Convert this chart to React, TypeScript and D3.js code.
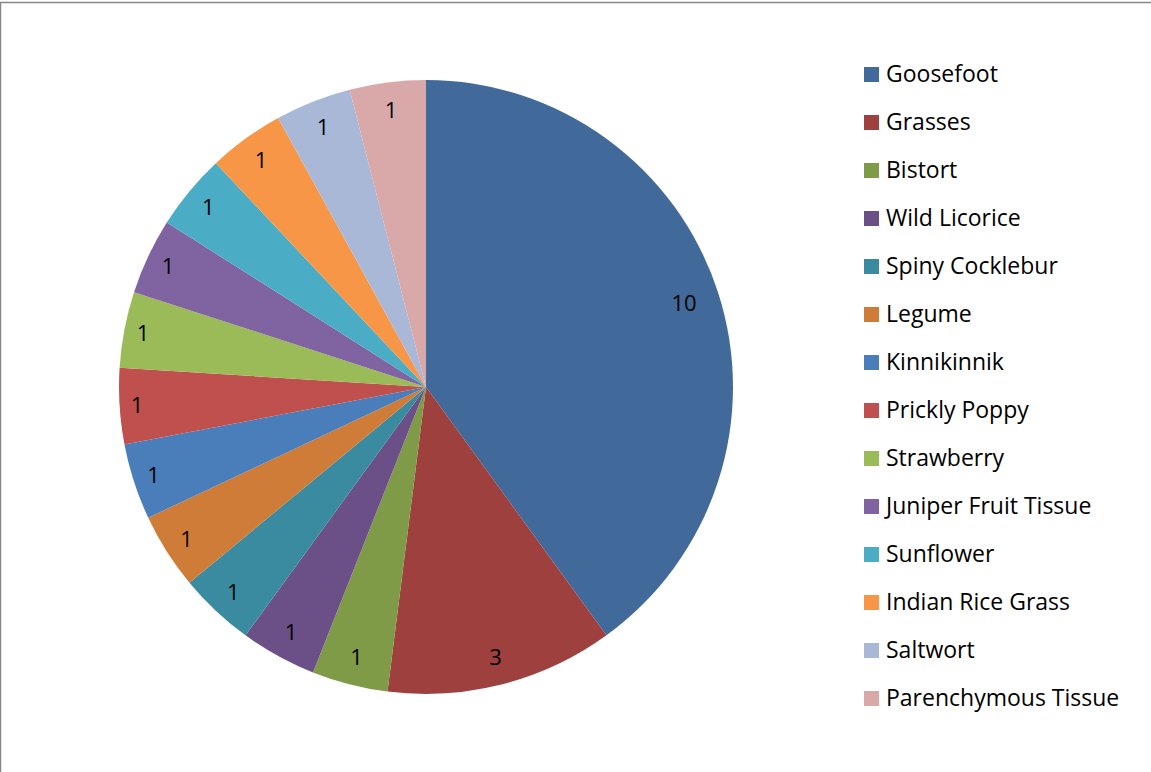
import React from "react";
import * as d3 from "d3";

const categories = [
  "Goosefoot",
  "Grasses",
  "Bistort",
  "Wild Licorice",
  "Spiny Cocklebur",
  "Legume",
  "Kinnikinnik",
  "Prickly Poppy",
  "Strawberry",
  "Juniper Fruit Tissue",
  "Sunflower",
  "Indian Rice Grass",
  "Saltwort",
  "Parenchymous Tissue",
];
const values = [10, 3, 1, 1, 1, 1, 1, 1, 1, 1, 1, 1, 1, 1];
const colors = [
  "#416A9B",
  "#9E413E",
  "#7F9B48",
  "#6A5087",
  "#3B8BA0",
  "#CF7C38",
  "#4A7EBB",
  "#C0504D",
  "#9BBB59",
  "#8064A2",
  "#4BACC6",
  "#F79646",
  "#A9B8D7",
  "#D9A8A8",
];

const W = 1151;
const H = 772;
const cx = 426;
const cy = 387;
const R = 307;
const FONT = "'Open Sans', sans-serif";

export default function App() {
  const data = categories.map((c, i) => ({ name: c, value: values[i], color: colors[i] }));
  const pie = d3.pie<any>().sort(null).value((d) => d.value);
  const arcs = pie(data);
  const arc = d3.arc<any>().innerRadius(0).outerRadius(R);
  const legendY = d3.scaleLinear().domain([0, 1]).range([74, 122]);

  // inside-end label placement: keep label box inside the outer edge
  const labelPos = (a: any) => {
    const mid = (a.startAngle + a.endAngle) / 2;
    const s = Math.sin(mid);
    const c = Math.cos(mid);
    const txt = String(a.data.value);
    const hw = txt.length * 16 - 14;
    const hh = 13;
    const r = R - 14.6 - hw * Math.abs(s) - hh * Math.abs(c);
    return [r * s, -r * c];
  };

  return (
    <svg
      width={W}
      height={H}
      style={{ position: "absolute", left: 0, top: 0, display: "block" }}
    >
      <rect x={0} y={0} width={W} height={H} fill="#fff" />
      <rect x={0.5} y={2.5} width={W + 10} height={H + 10} fill="none" stroke="#878787" strokeWidth={1.5} />
      <g transform={`translate(${cx},${cy})`}>
        {arcs.map((a, i) => (
          <path key={i} d={arc(a) || ""} fill={a.data.color} />
        ))}
        {arcs.map((a, i) => {
          const [x, y] = labelPos(a);
          return (
            <text
              key={"l" + i}
              x={x}
              y={y}
              dy="0.36em"
              textAnchor="middle"
              fontFamily={FONT}
              fontSize={22}
              fill="#000"
            >
              {a.data.value}
            </text>
          );
        })}
      </g>
      <g>
        {data.map((d, i) => (
          <g key={"lg" + i} transform={`translate(0,${legendY(i)})`}>
            <rect x={864} y={-7} width={15} height={15} fill={d.color} />
            <text
              x={886}
              y={0}
              dy="0.36em"
              fontFamily={FONT}
              fontSize={23}
              fill="#000"
            >
              {d.name}
            </text>
          </g>
        ))}
      </g>
    </svg>
  );
}
